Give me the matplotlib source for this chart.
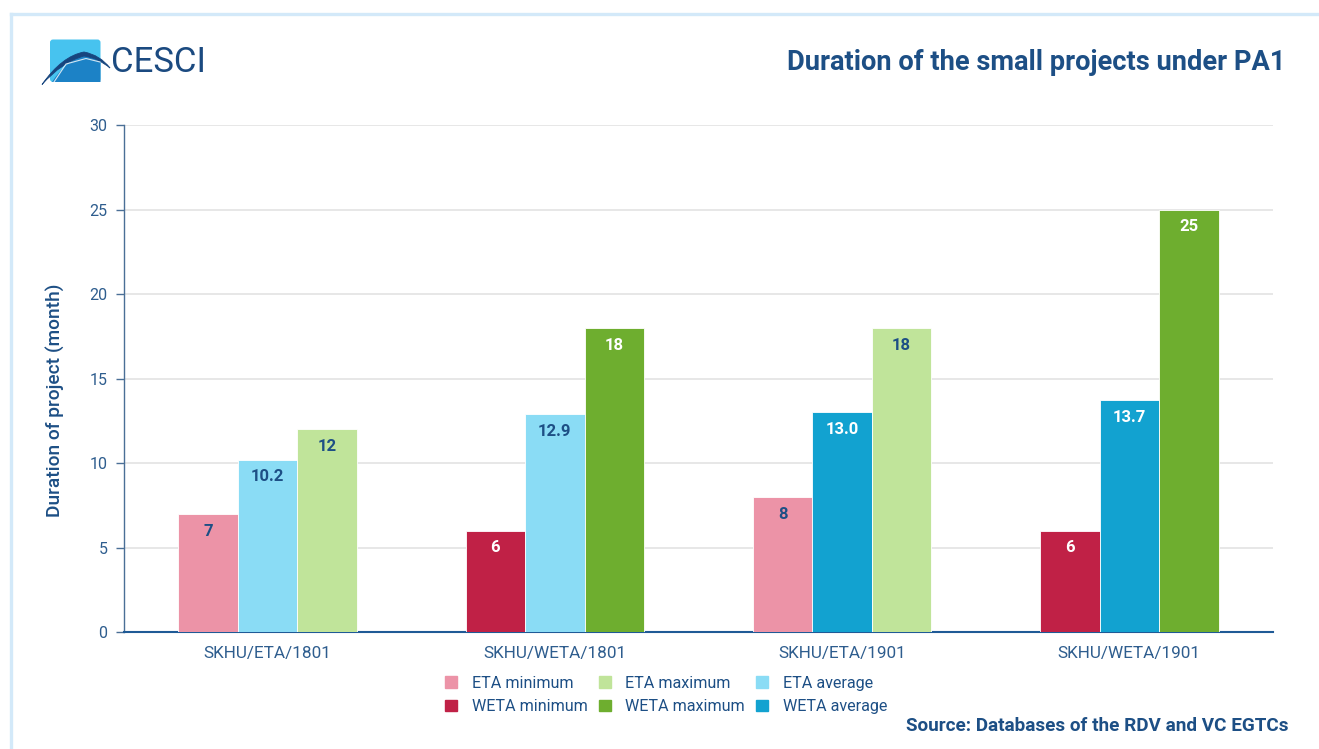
import matplotlib
matplotlib.use("Agg")
import matplotlib.pyplot as plt
import numpy as np
from matplotlib.lines import Line2D
from matplotlib.patches import FancyBboxPatch, PathPatch, Patch
from matplotlib.path import Path

plt.rcParams["font.family"] = ["Roboto", "DejaVu Sans"]

NAVY = "#1d4f85"
TICK_TEXT = "#2e5d8e"

CATEGORIES = ["SKHU/ETA/1801", "SKHU/WETA/1801", "SKHU/ETA/1901", "SKHU/WETA/1901"]
MINIMUM = [7, 6, 8, 6]
AVERAGE = [10.2, 12.9, 13.0, 13.7]
MAXIMUM = [12, 18, 18, 25]
# which programme each bar belongs to (drives colour and label colour)
MIN_KIND = ["ETA", "WETA", "ETA", "WETA"]
AVG_KIND = ["ETA", "ETA", "WETA", "WETA"]
MAX_KIND = ["ETA", "WETA", "ETA", "WETA"]

COLORS = {
    ("min", "ETA"): "#ec93a7", ("min", "WETA"): "#c02146",
    ("max", "ETA"): "#c0e49a", ("max", "WETA"): "#6eae2f",
    ("avg", "ETA"): "#8adcf5", ("avg", "WETA"): "#12a2d0",
}
LABEL_COLOR = {"ETA": NAVY, "WETA": "white"}

W, H = 1319, 749
fig = plt.figure(figsize=(W / 100, H / 100), dpi=100)
fig.patch.set_facecolor("white")

# light blue frame on the top and left
fig.add_artist(Line2D([11 / W, 1], [1 - 14 / H, 1 - 14 / H], color="#d3e9f9", lw=2.4))
fig.add_artist(Line2D([11 / W, 11 / W], [0, 1 - 14 / H], color="#d3e9f9", lw=2.4))

ax = fig.add_axes([124 / W, 1 - 632 / H, (1273 - 124) / W, (632 - 125) / H])

x = np.arange(len(CATEGORIES))
bw = 0.207
series = [("min", MINIMUM, MIN_KIND, -bw, "{:.0f}"),
          ("avg", AVERAGE, AVG_KIND, 0.0, "{:.1f}"),
          ("max", MAXIMUM, MAX_KIND, bw, "{:.0f}")]
for key, vals, kinds, off, fmt in series:
    cols = [COLORS[(key, k)] for k in kinds]
    bars = ax.bar(x + off, vals, bw, color=cols, edgecolor="white", linewidth=0.6, zorder=3)
    for b, v, k in zip(bars, vals, kinds):
        ax.annotate(fmt.format(v), (b.get_x() + b.get_width() / 2, v),
                    xytext=(0, -12.5), textcoords="offset points",
                    ha="center", va="center", fontsize=12, fontweight="bold",
                    color=LABEL_COLOR[k], zorder=4)

ax.set_xlim(-0.5, len(CATEGORIES) - 0.5)
ax.set_ylim(0, 30)
ax.set_yticks(range(0, 31, 5))
ax.set_xticks(x)
ax.set_xticklabels(CATEGORIES)
ax.grid(axis="y", color="#e3e3e3", lw=1.2, zorder=0)
ax.set_axisbelow(True)
for s in ("top", "right"):
    ax.spines[s].set_visible(False)
ax.spines["left"].set_color("#4a6f96")
ax.spines["left"].set_linewidth(1.0)
ax.spines["bottom"].set_color("#1f5a96")
ax.spines["bottom"].set_linewidth(1.5)
ax.tick_params(axis="y", colors="#4a6f96", labelcolor=TICK_TEXT, labelsize=11.5,
               length=6, width=1.0, pad=6)
ax.tick_params(axis="x", length=0, labelcolor=TICK_TEXT, labelsize=12.3, pad=10)
ax.set_ylabel("Duration of project (month)", fontsize=13.8, color=NAVY,
              fontweight="medium")
ax.yaxis.set_label_coords(-0.051, 0.458)

handles = [
    Patch(color=COLORS[("min", "ETA")], label="ETA minimum"),
    Patch(color=COLORS[("min", "WETA")], label="WETA minimum"),
    Patch(color=COLORS[("max", "ETA")], label="ETA maximum"),
    Patch(color=COLORS[("max", "WETA")], label="WETA maximum"),
    Patch(color=COLORS[("avg", "ETA")], label="ETA average"),
    Patch(color=COLORS[("avg", "WETA")], label="WETA average"),
]
leg = fig.legend(handles=handles, ncol=3, loc="center", bbox_to_anchor=(666 / W, 1 - 695 / H),
                 frameon=False, fontsize=11.6, handlelength=0.75, handleheight=0.75,
                 handletextpad=0.9, columnspacing=0.7, labelspacing=0.5)
for t in leg.get_texts():
    t.set_color(NAVY)

fig.text(1285 / W, 1 - 62 / H, "Duration of the small projects under PA1",
         ha="right", va="center", fontsize=19.6, fontweight="bold", color=NAVY)
fig.text(1289 / W, 1 - 726 / H, "Source: Databases of the RDV and VC EGTCs",
         ha="right", va="center", fontsize=13.6, fontweight="bold", color=NAVY)

# CESCI logo: rounded tile with a bridge swoosh, plus the wordmark
lg = fig.add_axes([38 / W, 1 - 92 / H, 76 / W, 56 / H])
lg.set_xlim(38, 114)
lg.set_ylim(92, 36)
lg.axis("off")
lg.add_patch(FancyBboxPatch((50, 39.5), 50.5, 42.5, boxstyle="round,pad=0,rounding_size=3",
                            fc="#47c3ef", ec="none"))
lower = Path([(52, 82), (66, 60), (86, 55), (100.5, 62), (100.5, 82), (52, 82)],
             [Path.MOVETO, Path.CURVE3, Path.CURVE3, Path.LINETO, Path.LINETO, Path.CLOSEPOLY])
lg.add_patch(PathPatch(lower, fc="#1c82c6", ec="none"))
swoosh = Path([(42, 84.5), (62, 56), (84, 52), (100, 55), (110, 68),
               (98, 58), (84, 56), (62, 62), (42, 84.5)],
              [Path.MOVETO, Path.CURVE3, Path.CURVE3, Path.CURVE3, Path.CURVE3,
               Path.CURVE3, Path.CURVE3, Path.CURVE3, Path.CURVE3])
lg.add_patch(PathPatch(swoosh, fc="#17457e", ec="#17457e", lw=0.6))
lg.plot([54, 66, 86, 100], [82, 64, 58.5, 62], color="white", lw=0.8, alpha=0.8)

fig.text(111 / W, 1 - 62 / H, "CESCI", ha="left", va="center", fontsize=25,
         color="#1b4a80", fontweight="normal")

fig.savefig("out.png", dpi=100)
